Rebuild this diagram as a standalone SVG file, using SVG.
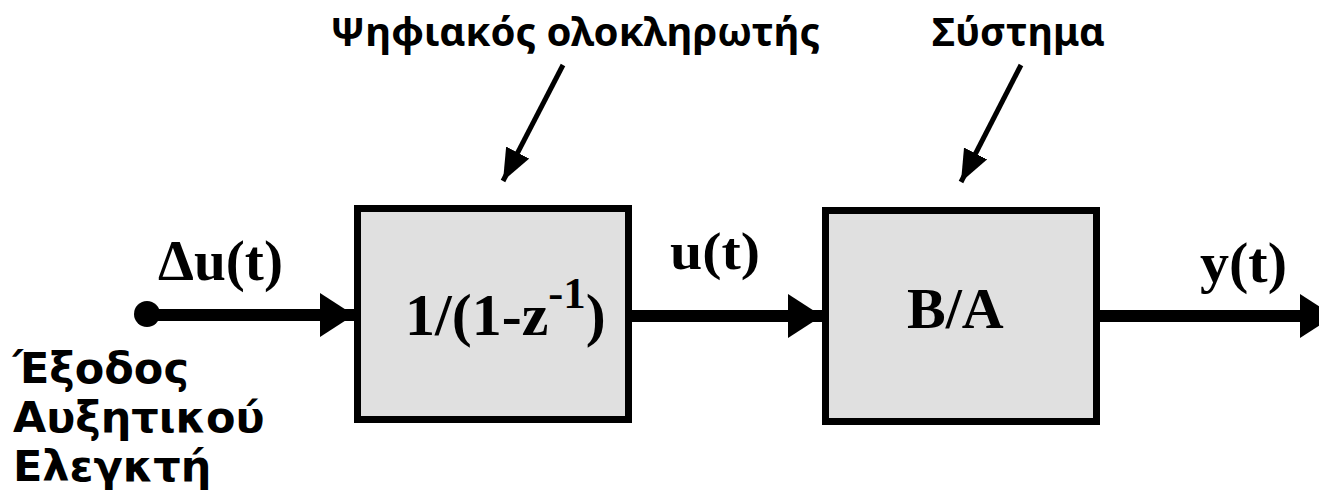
<svg xmlns="http://www.w3.org/2000/svg" width="1319" height="491" viewBox="0 0 1319 491">
<defs>
<marker id="big" markerUnits="userSpaceOnUse" markerWidth="36" markerHeight="46" refX="34" refY="22" orient="auto">
<path d="M0,0 L34,22 L0,44 Z" fill="#000"/>
</marker>
<marker id="small" markerUnits="userSpaceOnUse" markerWidth="34" markerHeight="28" refX="32" refY="13" orient="auto">
<path d="M0,0 L32,13 L0,26 Z" fill="#000"/>
</marker>
</defs>
<style>
.box{fill:#e0e0e0;stroke:#000;stroke-width:7}
.sig{stroke:#000;stroke-width:12;fill:none}
.ptr{stroke:#000;stroke-width:5;fill:none}
.math{font-family:"Liberation Serif","Times New Roman",serif;font-weight:bold;fill:#000}
.gr{font-family:"DejaVu Sans",Verdana,sans-serif;font-weight:bold;fill:#000}
.tt{font-family:"Noto Sans","DejaVu Sans",Tahoma,sans-serif;font-weight:bold;fill:#000}
</style>
<rect width="1319" height="491" fill="#fff"/>
<g id="connectors">
<circle cx="147" cy="314" r="13" fill="#000"/>
<line class="sig" x1="147" y1="315" x2="354" y2="315" marker-end="url(#big)"/>
<line class="sig" x1="632" y1="316" x2="822" y2="316" marker-end="url(#big)"/>
<line class="sig" x1="1100" y1="316" x2="1334" y2="316" marker-end="url(#big)"/>
<line class="ptr" x1="563" y1="65" x2="503" y2="181" marker-end="url(#small)"/>
<line class="ptr" x1="1021" y1="65" x2="961" y2="182" marker-end="url(#small)"/>
</g>
<g id="integrator">
<rect class="box" x="357.5" y="208.5" width="271" height="211"/>
<text class="math" x="405" y="335" font-size="60">1/(1-z<tspan font-size="45" dy="-27">-1</tspan><tspan dy="27" font-size="60">)</tspan></text>
</g>
<g id="system">
<rect class="box" x="825.5" y="210.5" width="271" height="211"/>
<text class="math" x="907" y="328" font-size="58">B/A</text>
</g>
<g id="labels">
<text class="math" x="158" y="280" font-size="56" textLength="125" lengthAdjust="spacingAndGlyphs">Δu(t)</text>
<text class="math" x="670" y="269" font-size="52" textLength="90" lengthAdjust="spacingAndGlyphs">u(t)</text>
<text class="math" x="1200" y="282" font-size="56" textLength="87" lengthAdjust="spacingAndGlyphs">y(t)</text>
<text class="tt" x="330" y="46" font-size="40" textLength="490" lengthAdjust="spacingAndGlyphs">Ψηφιακός ολοκληρωτής</text>
<text class="tt" x="932" y="46" font-size="40" textLength="173" lengthAdjust="spacingAndGlyphs">Σύστημα</text>
<text class="gr" x="13" y="383" font-size="43">Έξοδος</text>
<text class="gr" x="13" y="432" font-size="43">Αυξητικού</text>
<text class="gr" x="13" y="481" font-size="43">Ελεγκτή</text>
</g>
</svg>
